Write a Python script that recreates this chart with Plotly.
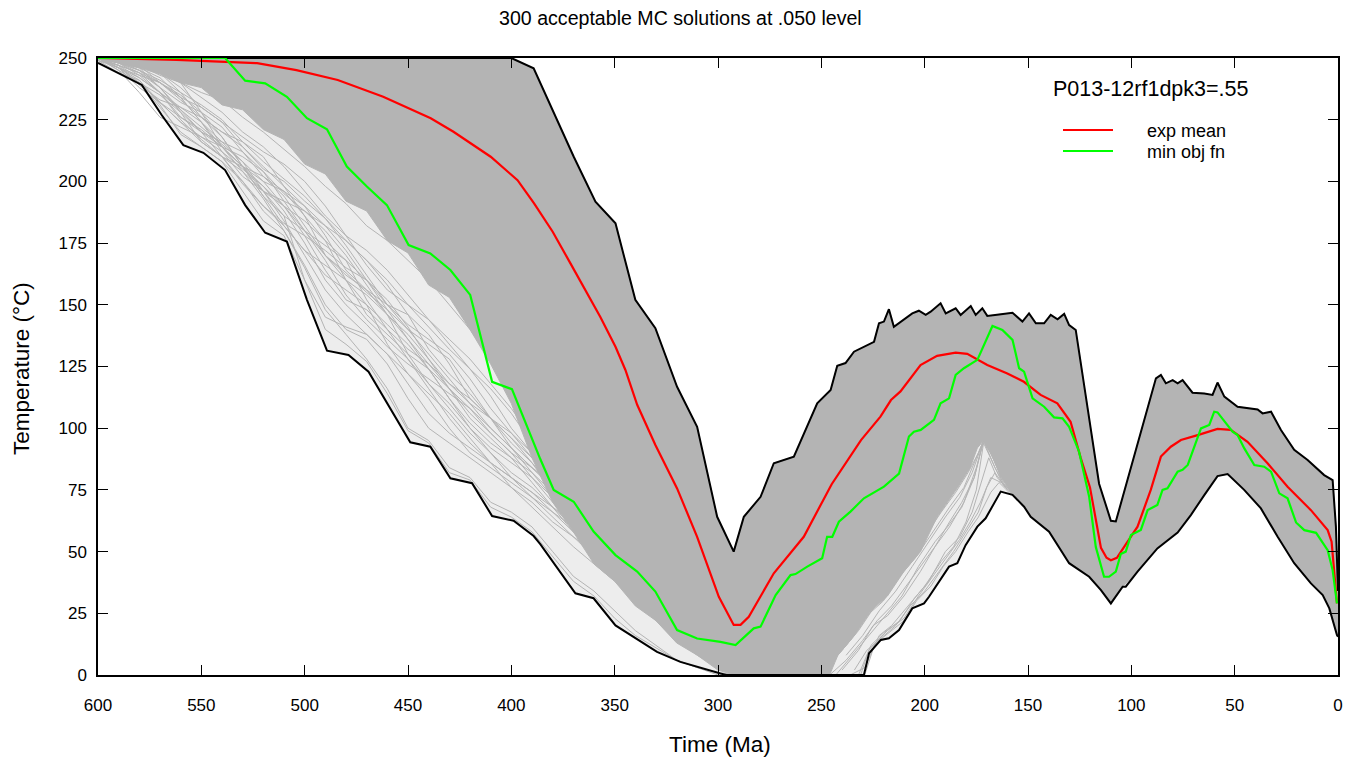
import plotly.graph_objects as go

# ---------------- data (time in Ma, temperature in °C) ----------------
UPPER_T = [600, 400, 389.2, 379.5, 369.8, 359.3, 349.6, 340, 330.3, 319.8, 310.1, 300.4, 292.4,
           287.5, 279.4, 273, 263.3, 252, 245.5, 242.3, 238.3, 234.2, 224.5, 222.1, 219.7, 217.3,
           214.9, 206, 202.8, 199.5, 197.1, 192.3, 189.8, 185, 182.6, 177.7, 175.3, 172.1, 169.7,
           164, 157.5, 152.7, 149.5, 146.2, 142.2, 139, 135.7, 132.5, 130.1, 126.9, 115.6, 109.9,
           107.5, 88.1, 85.7, 83.3, 80, 77.6, 75.2, 70.4, 64.7, 60.7, 58.3, 55, 48.6, 38.9, 36.5,
           32.4, 27.6, 21.2, 14.7, 6.7, 2.6, 1, 0]
UPPER_V = [250, 250, 245.8, 227.6, 210, 191.8, 183, 152, 140.5, 116.8, 100.6, 64.1, 50,
           64.1, 72.2, 85.8, 88.5, 110.1, 115.5, 125.3, 126.4, 131, 135, 142.5, 143.2, 148.2,
           141.1, 146.5, 147.6, 145.9, 147.2, 150.6, 146.5, 148.6, 145.9, 149.5, 145.9, 148.6, 145.5,
           146.1, 146.8, 143.2, 146.5, 142.5, 142.5, 145.9, 144.1, 146.3, 141.8, 139.8, 77.5, 62.5,
           62.2, 120.2, 121.6, 118.2, 119.5, 118.2, 119.5, 114.4, 114.1, 113.5, 118.5, 112.8, 108.7, 107.6, 106,
           106.7, 99.3, 91.2, 87.1, 81, 79, 60, 34]

LOWER_T = [600, 578.8, 569.2, 558.7, 549, 538.5, 528.8, 519.1, 508.6, 498.9, 489.2, 478.8, 469.1,
           448.9, 439.2, 429.5, 419, 409.3, 398.9, 389.2, 386, 369, 360.2, 349.6, 329.5, 318.2,
           298.8, 296, 229.4, 226.9, 221.2, 217.3, 212.4, 206, 200.3, 197.9, 188.2, 184.2, 180.2,
           174.5, 170.5, 163.2, 157.5, 151.9, 148.7, 139.8, 130.1, 120.4, 114.7, 109.9, 104.2, 102.7,
           97, 87.4, 77.6, 71.2, 64.7, 58.3, 53.4, 45.4, 37.3, 29.2, 21.2, 13.1, 7.4, 4.2, 0.5, 0]
LOWER_V = [248, 239.1, 226.9, 214.7, 211.6, 204.6, 190.4, 179.2, 175.6, 152, 131.4, 129.7, 122.9,
           94.3, 92.5, 79.7, 77.7, 64.4, 62.5, 56.3, 53, 33.1, 31.1, 20.1, 9.4, 5.3,
           0.6, 0, 0, 8.8, 14.2, 14.9, 18.2, 27, 29, 31.7, 43.9, 45.3, 52.6,
           60.1, 63.5, 74.3, 73, 68.2, 64.1, 58.1, 45.3, 39.8, 34.4, 29, 35.8, 35.8,
           41.9, 51.3, 57.7, 64.8, 72.9, 80.6, 81.4, 75, 67.5, 56, 45.3, 37.1, 32.4, 27, 16.2, 15.5]

# lower edge of the densely overlapping part of the 300 solutions
DENSE_LO_T = [600, 590, 580, 570, 560, 550, 540, 530, 520, 510, 500, 490, 480, 470, 460, 450, 440,
              430, 420, 410, 400, 390, 380, 370, 360, 350, 340, 330, 320, 310, 300, 292, 246, 242,
              234, 226, 218, 210, 202, 194, 184, 178, 174.5, 171.5, 168, 163, 157.5, 151.9, 148.7,
              139.8, 130.1, 120.4, 114.7, 109.9, 104.2, 97, 87.4, 77.6, 71.2, 64.7, 58.3, 53.4, 45.4,
              37.3, 29.2, 21.2, 13.1, 7.4, 4.2, 0.5, 0]
DENSE_LO_V = [249.5, 248, 246, 243.5, 240, 238, 231, 229, 221, 217, 207, 203, 192, 188, 176, 171, 158,
              153, 140, 126, 110, 88, 70, 58, 45, 38, 28, 22, 13, 8, 2, 0, 0, 8,
              16, 26, 32, 42, 50, 64, 76, 84, 92, 95, 90, 80, 73, 68.2, 64.1,
              58.1, 45.3, 39.8, 34.4, 29, 35.8, 41.9, 51.3, 57.7, 64.8, 72.9, 80.6, 81.4, 75,
              67.5, 56, 45.3, 37.1, 32.4, 27, 16.2, 15.5]

# individual solutions visible in the sparse early-cooling fan
FAN_T = [600, 590, 580, 570, 560, 550, 540, 530, 520, 510, 500, 490, 480, 470, 460, 450,
         440, 430, 420, 410, 400, 390, 380, 370, 360, 350, 340, 330, 320, 310, 300, 290]
FAN_PATHS = [
    [250, 249, 247, 243, 240, 236, 233, 226, 220, 213, 206, 198, 191, 182, 176, 168, 160, 150, 140, 128, 117, 100, 85, 72, 62, 52, 42, 32, 22, 12, 5, 0],
    [250, 248, 245, 240, 233, 226, 220, 214, 205, 200, 192, 185, 176, 168, 160, 150, 141, 132, 124, 113, 100, 90, 78, 68, 60, 50, 40, 30, 20, 11, 4, 0],
    [250, 247, 242, 236, 229, 222, 215, 208, 200, 190, 180, 170, 163, 155, 148, 140, 130, 120, 110, 100, 92, 84, 76, 68, 60, 50, 40, 30, 20, 11, 4, 0],
    [250, 246, 241, 232, 224, 218, 212, 205, 198, 188, 175, 160, 150, 142, 133, 126, 120, 114, 108, 100, 92, 84, 76, 68, 58, 48, 38, 28, 18, 10, 4, 0],
    [248, 244, 240, 230, 220, 214, 208, 200, 190, 182, 172, 162, 156, 150, 142, 134, 124, 112, 100, 90, 80, 72, 64, 56, 48, 40, 32, 24, 16, 9, 3, 0],
    [250, 249, 246, 238, 229, 220, 210, 199, 190, 183, 178, 172, 165, 160, 152, 141, 128, 118, 110, 104, 96, 86, 74, 64, 56, 48, 40, 30, 20, 11, 4, 0],
    [250, 245, 240, 235, 228, 220, 214, 210, 204, 195, 188, 180, 170, 158, 146, 136, 126, 118, 112, 104, 96, 88, 80, 70, 60, 52, 42, 32, 22, 12, 5, 0],
    [250, 248, 243, 236, 225, 217, 210, 204, 196, 186, 160, 145, 141, 138, 130, 118, 106, 98, 92, 86, 80, 74, 68, 62, 55, 47, 38, 28, 18, 10, 4, 0],
    [250, 249, 247, 244, 238, 230, 224, 218, 212, 207, 200, 190, 178, 166, 156, 150, 144, 136, 128, 118, 108, 96, 84, 72, 62, 52, 42, 32, 22, 12, 5, 0],
    [250, 247, 244, 240, 235, 228, 218, 206, 194, 186, 180, 174, 168, 160, 148, 136, 124, 112, 102, 94, 88, 82, 74, 66, 58, 50, 41, 31, 21, 12, 5, 0],
    [249, 246, 242, 236, 230, 224, 216, 208, 196, 184, 170, 156, 146, 138, 130, 122, 112, 100, 90, 84, 78, 72, 66, 60, 54, 47, 38, 28, 18, 10, 4, 0],
    [250, 250, 248, 245, 240, 234, 228, 220, 214, 206, 196, 186, 178, 172, 164, 154, 144, 134, 124, 116, 106, 94, 82, 70, 60, 50, 40, 30, 20, 11, 4, 0],
    [250, 246, 238, 232, 226, 221, 214, 204, 193, 180, 166, 150, 140, 136, 126, 112, 100, 94, 88, 82, 76, 70, 62, 56, 50, 42, 34, 26, 17, 9, 3, 0],
    [250, 248, 245, 241, 236, 231, 225, 216, 208, 201, 194, 185, 174, 162, 150, 142, 136, 130, 120, 108, 98, 88, 78, 70, 62, 54, 44, 34, 24, 13, 5, 0],
    [250, 246, 240, 232, 224, 216, 210, 200, 188, 180, 165, 148, 138, 128, 116, 100, 95, 84, 80, 70, 66, 60, 50, 40, 34, 26, 18, 12, 6, 3, 0, 0],
    [249, 244, 241, 231, 219, 214, 208, 196, 184, 178, 160, 140, 134, 127, 114, 99, 94, 82, 79, 68, 64, 58, 48, 38, 32, 23, 16, 11, 6, 3, 1, 0],
    [250, 250, 249, 246, 240, 228, 214, 206, 200, 196, 190, 178, 164, 156, 150, 146, 138, 126, 112, 104, 98, 90, 80, 70, 60, 50, 40, 30, 20, 11, 4, 0],
    [250, 247, 239, 233, 230, 226, 218, 206, 196, 192, 188, 182, 172, 160, 150, 140, 134, 128, 116, 104, 92, 82, 72, 62, 54, 46, 38, 28, 18, 10, 4, 0],
    [250, 249, 248, 244, 236, 226, 220, 216, 210, 198, 186, 176, 168, 152, 140, 132, 126, 116, 106, 98, 90, 80, 70, 60, 52, 44, 36, 28, 18, 10, 4, 0],
    [250, 245, 236, 226, 222, 218, 214, 206, 194, 182, 172, 166, 160, 150, 134, 122, 114, 106, 96, 86, 76, 68, 60, 52, 45, 38, 30, 22, 14, 8, 3, 0],
    [250, 248, 246, 242, 234, 224, 212, 202, 196, 190, 184, 176, 160, 146, 138, 130, 124, 116, 108, 98, 90, 84, 78, 70, 62, 54, 44, 34, 24, 13, 5, 0],
    [250, 249, 245, 238, 232, 228, 222, 212, 202, 196, 186, 170, 160, 154, 146, 130, 118, 110, 100, 92, 86, 80, 72, 64, 56, 48, 40, 30, 20, 11, 4, 0],
    [249, 247, 244, 238, 228, 216, 210, 206, 202, 194, 182, 170, 162, 156, 146, 138, 128, 116, 104, 96, 88, 78, 68, 58, 50, 42, 34, 26, 17, 9, 3, 0],
    [250, 250, 247, 240, 234, 230, 224, 214, 206, 198, 190, 182, 176, 168, 158, 146, 132, 122, 114, 104, 94, 86, 76, 66, 58, 50, 41, 31, 21, 12, 5, 0],
    [250, 248, 244, 236, 226, 220, 216, 212, 204, 192, 180, 168, 154, 144, 136, 128, 116, 104, 94, 86, 80, 74, 66, 58, 50, 43, 35, 26, 17, 9, 3, 0],
    [250, 246, 243, 240, 234, 224, 214, 206, 198, 190, 178, 164, 152, 148, 140, 128, 118, 108, 98, 90, 82, 76, 68, 60, 52, 44, 36, 27, 18, 10, 4, 0],
]

# individual solutions visible below the Mesozoic reheating
MID_PATHS_T = [
    [236, 229, 222, 216, 208, 200, 192, 186, 180, 175, 171.5, 167, 162, 156],
    [240, 232, 225, 218, 210, 202, 195, 188, 181, 175, 171.5, 166, 160],
    [232, 226, 220, 212, 205, 198, 190, 183, 177, 172, 169, 165, 159, 153],
    [244, 236, 228, 220, 212, 204, 196, 188, 181, 176, 171.5, 168, 163],
    [229, 224, 218, 210, 203, 196, 189, 183, 178, 173, 168, 163, 157, 150],
    [238, 230, 222, 214, 206, 198, 190, 183, 177, 172],
    [248, 240, 232, 224, 216, 208, 200, 192, 185, 179, 174, 171.5],
    [234, 228, 221, 214, 207, 200, 193, 186, 180, 174, 170, 166, 161],
    [246, 238, 230, 223, 216, 209, 202, 195, 188, 182, 176, 171.5, 167, 162, 155],
    [231, 227, 222, 216, 210, 204, 197, 191, 185, 179, 174, 168, 164, 158],
    [243, 235, 227, 219, 211, 203, 195, 189, 182, 176, 171.5],
]
MID_PATHS_V = [
    [0, 3, 16, 20, 28, 36, 46, 52, 62, 75, 94, 86, 77, 72],
    [2, 10, 20, 24, 32, 42, 52, 60, 70, 84, 95, 84, 75],
    [0, 12, 17, 22, 31, 38, 50, 56, 66, 80, 88, 80, 75, 71],
    [6, 14, 24, 30, 40, 48, 58, 68, 76, 86, 95, 90, 80],
    [0, 13, 18, 23, 32, 40, 48, 55, 62, 70, 80, 78, 74, 68],
    [8, 16, 26, 34, 44, 54, 64, 72, 82, 94],
    [4, 10, 18, 28, 36, 46, 56, 66, 74, 82, 90, 95],
    [2, 10, 15, 20, 28, 34, 42, 50, 58, 66, 76, 82, 76],
    [0, 6, 14, 22, 28, 36, 44, 52, 62, 70, 80, 95, 88, 80, 72],
    [0, 10, 14, 18, 22, 30, 36, 44, 50, 58, 64, 74, 78, 73],
    [0, 8, 16, 24, 32, 44, 54, 60, 68, 80, 95],
]

MEAN_T = [600, 562, 523, 504, 484, 462, 439, 428, 410, 397, 389, 380, 371.4, 362.6, 357, 349.6,
          344.8, 339.1, 330.3, 319.8, 310.1, 299.6, 295, 292.4, 289.1, 285.1, 273, 258.5, 245,
          235.9, 230.8, 221.4, 216.3, 211.7, 202, 194, 185, 179.4, 169.7, 160, 152, 143.9, 135.8,
          129.4, 124.5, 120, 114.7, 112, 109.9, 107, 103.5, 97, 90.6, 85.7, 80.9, 76, 67.9, 58.3,
          51.9, 43.8, 34.1, 24.4, 13.1, 5, 3.1, 1.5, 0.5]
MEAN_V = [250, 249.2, 247.9, 245.1, 241.1, 234.3, 225.6, 220.1, 210, 200.5, 191.1, 179.6, 166.8, 153.3, 145.2, 133,
          123.6, 109.5, 93.2, 75.6, 56, 31.7, 24, 20.3, 20.3, 23.6, 41.2, 56, 77.3,
          88.5, 95.2, 104.7, 111.4, 114.9, 125.6, 129.3, 130.6, 130.1, 125.6, 122.2, 118.8, 113.5, 110.1,
          102.6, 88, 76, 51.5, 47.5, 46.5, 47.5, 52, 60.1, 75, 88.5, 92.5, 95.2, 97.2, 99.7,
          99.3, 94.5, 85.8, 76.3, 66.8, 58.7, 54, 40, 29]

BEST_T = [600, 538.5, 528.8, 519.1, 508.6, 498.9, 489.2, 479.6, 469.9, 460.2, 449.7, 439.2, 429.5,
          419.9, 409.3, 399.7, 386, 379.5, 369.8, 360.2, 349.6, 339.1, 330.3, 319.8, 310.1, 298.8,
          291.5, 282.7, 279.4, 272.1, 264.9, 262.5, 256.8, 249.6, 247.2, 244.7, 241.5, 235.9, 229.4,
          219.7, 212.4, 207.6, 205.2, 201.9, 195.5, 192.3, 188.2, 185, 181, 174.5, 167.2, 162.4,
          157.5, 154.3, 151.9, 147.8, 142.2, 137.4, 133.3, 130.1, 125.3, 120.4, 117.2, 113.2, 110.8,
          107.5, 105.1, 102.7, 100.2, 95.4, 92.1, 87.4, 84.9, 82.5, 77.6, 75.2, 72.7, 68.7, 66.3,
          62.3, 59.9, 58.3, 51, 48.6, 45.4, 40.5, 35.7, 32.4, 28.4, 24.4, 20.3, 16.3, 10.6, 5, 2.6, 0.5]
BEST_V = [250, 250, 240.8, 239.7, 234.3, 225.6, 221.1, 206, 197.9, 190.4, 174.2, 170.8, 164.1,
          154, 118.8, 115.8, 87.5, 75, 70.2, 58.1, 48.6, 41.9, 33.8, 18.2, 14.8, 13.4,
          12.1, 18.9, 19.6, 32.4, 40.5, 40.9, 43.9, 47.3, 56, 56, 62.1, 66.2, 71.6,
          76.3, 81.6, 96.6, 98.6, 99.3, 103.4, 110.1, 112.1, 121.6, 124.3, 127.7, 141.4, 139.8,
          135.8, 124.3, 122.9, 112.1, 108.7, 104.4, 104, 100.6, 90.5, 72.2, 51.9, 39.8, 39.8,
          41.9, 49, 50, 56.7, 58.8, 66.8, 68.9, 75, 75.6, 82.4, 83.1, 85.1, 94.1, 99.9,
          101.3, 106.7, 106.4, 98.6, 97.2, 91.9, 85.1, 84.4, 82.4, 73.6, 71.6, 61.8, 58.7, 57.6, 50.6, 42.5, 29]

X_TICKS = [600, 550, 500, 450, 400, 350, 300, 250, 200, 150, 100, 50, 0]
Y_TICKS = [0, 25, 50, 75, 100, 125, 150, 175, 200, 225, 250]

TITLE = "300 acceptable MC solutions at .050 level"
SAMPLE = "P013-12rf1dpk3=.55"
LEGEND_LABELS = ["exp mean", "min obj fn"]

# ---------------- styling ----------------
GRAY = "#b4b4b4"
HAZE = "#ededed"
FONT = "Liberation Sans, Arial, sans-serif"
W, H = 1359, 761
ML, MR, MT, MB = 98, 21, 58, 86
PW, PH = W - ML - MR, H - MT - MB


def px_x(px):
    return (px - ML) / PW


def px_y(py):
    return (H - MB - py) / PH


fig = go.Figure()

# faint haze of the sparse solutions between the lower envelope and the dense band
fig.add_trace(go.Scatter(x=DENSE_LO_T + LOWER_T[::-1], y=DENSE_LO_V + LOWER_V[::-1],
                         mode="lines", fill="toself", fillcolor=HAZE,
                         line=dict(width=0), showlegend=False, hoverinfo="skip"))

for path in FAN_PATHS:
    fig.add_trace(go.Scatter(x=FAN_T, y=path, mode="lines", line=dict(color=GRAY, width=1),
                             showlegend=False, hoverinfo="skip"))
for tt, vv in zip(MID_PATHS_T, MID_PATHS_V):
    fig.add_trace(go.Scatter(x=tt, y=vv, mode="lines", line=dict(color=GRAY, width=1),
                             showlegend=False, hoverinfo="skip"))

# dense band of overlapping solutions
fig.add_trace(go.Scatter(x=UPPER_T + DENSE_LO_T[::-1], y=UPPER_V + DENSE_LO_V[::-1],
                         mode="lines", fill="toself", fillcolor=GRAY,
                         line=dict(color=GRAY, width=1), showlegend=False, hoverinfo="skip"))

fig.add_trace(go.Scatter(x=UPPER_T, y=UPPER_V, mode="lines", line=dict(color="black", width=2),
                         showlegend=False))
fig.add_trace(go.Scatter(x=LOWER_T, y=LOWER_V, mode="lines", line=dict(color="black", width=2),
                         showlegend=False))
fig.add_trace(go.Scatter(x=MEAN_T, y=MEAN_V, mode="lines", line=dict(color="#ff0000", width=2.2),
                         name=LEGEND_LABELS[0], showlegend=False))
fig.add_trace(go.Scatter(x=BEST_T, y=BEST_V, mode="lines", line=dict(color="#00ff00", width=2.2),
                         name=LEGEND_LABELS[1], showlegend=False))

axis_common = dict(showgrid=False, zeroline=False, showline=True, linecolor="black", linewidth=1.5,
                   mirror="ticks", ticks="inside", ticklen=10, tickwidth=1, tickcolor="black",
                   tickfont=dict(family=FONT, size=17, color="black"))

fig.update_xaxes(range=[600, 0], tickvals=X_TICKS, ticktext=[str(v) for v in X_TICKS],
                 ticklabelstandoff=14, **axis_common)
fig.update_yaxes(range=[0, 250], tickvals=Y_TICKS, ticktext=[str(v) for v in Y_TICKS],
                 ticklabelstandoff=6, **axis_common)

annotations = [
    dict(text=TITLE, x=px_x(680), y=px_y(18), xref="paper", yref="paper", xanchor="center",
         yanchor="middle", showarrow=False, font=dict(family=FONT, size=19.6, color="black")),
    dict(text="Time (Ma)", x=px_x(720), y=px_y(744), xref="paper", yref="paper", xanchor="center",
         yanchor="middle", showarrow=False, font=dict(family=FONT, size=22.5, color="black")),
    dict(text="Temperature (°C)", x=px_x(22), y=px_y(369), xref="paper", yref="paper",
         xanchor="center", yanchor="middle", textangle=-90, showarrow=False,
         font=dict(family=FONT, size=22.5, color="black")),
    dict(text=SAMPLE, x=px_x(1150), y=px_y(89), xref="paper", yref="paper", xanchor="center",
         yanchor="middle", showarrow=False, font=dict(family=FONT, size=21.5, color="black")),
    dict(text=LEGEND_LABELS[0], x=px_x(1145), y=px_y(131), xref="paper", yref="paper",
         xanchor="left", yanchor="middle", showarrow=False,
         font=dict(family=FONT, size=18, color="black")),
    dict(text=LEGEND_LABELS[1], x=px_x(1145), y=px_y(152), xref="paper", yref="paper",
         xanchor="left", yanchor="middle", showarrow=False,
         font=dict(family=FONT, size=18, color="black")),
]

shapes = [
    dict(type="line", xref="paper", yref="paper", x0=px_x(1063), x1=px_x(1113), y0=px_y(130),
         y1=px_y(130), line=dict(color="#ff0000", width=2.2)),
    dict(type="line", xref="paper", yref="paper", x0=px_x(1063), x1=px_x(1113), y0=px_y(151),
         y1=px_y(151), line=dict(color="#00ff00", width=2.2)),
]

fig.update_layout(width=W, height=H, margin=dict(l=ML, r=MR, t=MT, b=MB),
                  paper_bgcolor="white", plot_bgcolor="white", showlegend=False,
                  annotations=annotations, shapes=shapes, font=dict(family=FONT, color="black"))

fig.write_html("out.html")
